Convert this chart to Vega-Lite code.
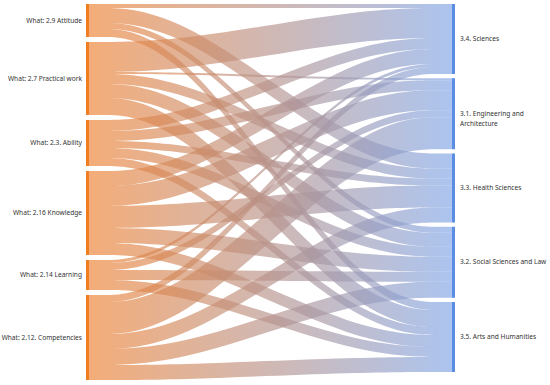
{
  "$schema": "https://vega.github.io/schema/vega-lite/v6.json",
  "width": 363,
  "height": 376,
  "autosize": "none",
  "padding": {"left": 89, "top": 4, "right": 98, "bottom": 5},
  "background": "white",
  "config": {"view": {"stroke": null}},
  "data": {"values": [
    {"source": "What: 2.9 Attitude", "srank": 0, "target": "3.4. Sciences", "trank": 0, "value": 4},
    {"source": "What: 2.9 Attitude", "srank": 0, "target": "3.3. Health Sciences", "trank": 2, "value": 15},
    {"source": "What: 2.9 Attitude", "srank": 0, "target": "3.2. Social Sciences and Law", "trank": 3, "value": 6},
    {"source": "What: 2.9 Attitude", "srank": 0, "target": "3.5. Arts and Humanities", "trank": 4, "value": 8},
    {"source": "What: 2.7 Practical work", "srank": 1, "target": "3.4. Sciences", "trank": 0, "value": 30},
    {"source": "What: 2.7 Practical work", "srank": 1, "target": "3.1. Engineering and Architecture", "trank": 1, "value": 2},
    {"source": "What: 2.7 Practical work", "srank": 1, "target": "3.3. Health Sciences", "trank": 2, "value": 10},
    {"source": "What: 2.7 Practical work", "srank": 1, "target": "3.2. Social Sciences and Law", "trank": 3, "value": 14},
    {"source": "What: 2.7 Practical work", "srank": 1, "target": "3.5. Arts and Humanities", "trank": 4, "value": 17},
    {"source": "What: 2.3. Ability", "srank": 2, "target": "3.4. Sciences", "trank": 0, "value": 11},
    {"source": "What: 2.3. Ability", "srank": 2, "target": "3.1. Engineering and Architecture", "trank": 1, "value": 10},
    {"source": "What: 2.3. Ability", "srank": 2, "target": "3.3. Health Sciences", "trank": 2, "value": 7},
    {"source": "What: 2.3. Ability", "srank": 2, "target": "3.2. Social Sciences and Law", "trank": 3, "value": 10},
    {"source": "What: 2.3. Ability", "srank": 2, "target": "3.5. Arts and Humanities", "trank": 4, "value": 8},
    {"source": "What: 2.16 Knowledge", "srank": 3, "target": "3.4. Sciences", "trank": 0, "value": 15},
    {"source": "What: 2.16 Knowledge", "srank": 3, "target": "3.1. Engineering and Architecture", "trank": 1, "value": 20},
    {"source": "What: 2.16 Knowledge", "srank": 3, "target": "3.3. Health Sciences", "trank": 2, "value": 22},
    {"source": "What: 2.16 Knowledge", "srank": 3, "target": "3.2. Social Sciences and Law", "trank": 3, "value": 15},
    {"source": "What: 2.16 Knowledge", "srank": 3, "target": "3.5. Arts and Humanities", "trank": 4, "value": 12},
    {"source": "What: 2.14 Learning", "srank": 4, "target": "3.4. Sciences", "trank": 0, "value": 3},
    {"source": "What: 2.14 Learning", "srank": 4, "target": "3.1. Engineering and Architecture", "trank": 1, "value": 7},
    {"source": "What: 2.14 Learning", "srank": 4, "target": "3.2. Social Sciences and Law", "trank": 3, "value": 10},
    {"source": "What: 2.14 Learning", "srank": 4, "target": "3.5. Arts and Humanities", "trank": 4, "value": 10},
    {"source": "What: 2.12. Competencies", "srank": 5, "target": "3.4. Sciences", "trank": 0, "value": 7},
    {"source": "What: 2.12. Competencies", "srank": 5, "target": "3.1. Engineering and Architecture", "trank": 1, "value": 32},
    {"source": "What: 2.12. Competencies", "srank": 5, "target": "3.3. Health Sciences", "trank": 2, "value": 15},
    {"source": "What: 2.12. Competencies", "srank": 5, "target": "3.2. Social Sciences and Law", "trank": 3, "value": 16},
    {"source": "What: 2.12. Competencies", "srank": 5, "target": "3.5. Arts and Humanities", "trank": 4, "value": 15}
  ]},
  "transform": [
    {"window": [{"op": "sum", "field": "value", "as": "s_cum"}], "sort": [{"field": "srank"}, {"field": "trank"}], "frame": [null, 0]},
    {"window": [{"op": "sum", "field": "value", "as": "t_cum"}], "sort": [{"field": "trank"}, {"field": "srank"}], "frame": [null, 0]},
    {"calculate": "datum.s_cum + datum.srank * 5", "as": "s1"},
    {"calculate": "datum.s1 - datum.value", "as": "s0"},
    {"calculate": "datum.t_cum + datum.trank * 4.25", "as": "t1"},
    {"calculate": "datum.t1 - datum.value", "as": "t0"}
  ],
  "layer": [
    {
      "transform": [
        {"calculate": "[0, 0.25, 0.75, 1]", "as": "cx"},
        {"calculate": "[0, 0, 1, 1]", "as": "cw"},
        {"flatten": ["cx", "cw"]},
        {"calculate": "datum.s0 + datum.cw * (datum.t0 - datum.s0)", "as": "ya"},
        {"calculate": "datum.s1 + datum.cw * (datum.t1 - datum.s1)", "as": "yb"}
      ],
      "mark": {
        "type": "area",
        "interpolate": "basis",
        "orient": "vertical",
        "fill": {"gradient": "linear", "x1": 0, "x2": 1, "y1": 0, "y2": 0,
          "stops": [{"offset": 0, "color": "#EE8030"}, {"offset": 1, "color": "#7FA4E6"}]},
        "fillOpacity": 0.65
      },
      "encoding": {
        "x": {"field": "cx", "type": "quantitative", "scale": {"domain": [0, 1], "nice": false, "zero": false}, "axis": null},
        "y": {"field": "ya", "type": "quantitative", "scale": {"domain": [0, 376], "reverse": true, "nice": false, "zero": false}, "axis": null, "stack": null},
        "y2": {"field": "yb"},
        "detail": [{"field": "source"}, {"field": "target"}]
      }
    },
    {
      "transform": [
        {"aggregate": [{"op": "min", "field": "s0", "as": "n0"}, {"op": "max", "field": "s1", "as": "n1"}], "groupby": ["source"]}
      ],
      "mark": {"type": "rule", "strokeWidth": 3, "color": "#F07D1E", "xOffset": -1.5},
      "encoding": {
        "x": {"datum": 0, "type": "quantitative", "axis": null},
        "y": {"field": "n0", "type": "quantitative", "axis": null},
        "y2": {"field": "n1"}
      }
    },
    {
      "transform": [
        {"aggregate": [{"op": "min", "field": "t0", "as": "n0"}, {"op": "max", "field": "t1", "as": "n1"}], "groupby": ["target"]}
      ],
      "mark": {"type": "rule", "strokeWidth": 3, "color": "#5B8EE3", "xOffset": 1.5},
      "encoding": {
        "x": {"datum": 1, "type": "quantitative", "axis": null},
        "y": {"field": "n0", "type": "quantitative", "axis": null},
        "y2": {"field": "n1"}
      }
    },
    {
      "transform": [
        {"aggregate": [{"op": "min", "field": "s0", "as": "n0"}, {"op": "max", "field": "s1", "as": "n1"}], "groupby": ["source"]},
        {"calculate": "(datum.n0 + datum.n1) / 2", "as": "mid"}
      ],
      "mark": {"type": "text", "align": "right", "baseline": "middle", "dx": -7, "font": "Noto Sans", "fontSize": 6.6, "color": "#333333"},
      "encoding": {
        "x": {"datum": 0, "type": "quantitative", "axis": null},
        "y": {"field": "mid", "type": "quantitative", "axis": null},
        "text": {"field": "source", "type": "nominal"}
      }
    },
    {
      "transform": [
        {"aggregate": [{"op": "min", "field": "t0", "as": "n0"}, {"op": "max", "field": "t1", "as": "n1"}], "groupby": ["target"]},
        {"calculate": "(datum.n0 + datum.n1) / 2", "as": "mid"},
        {"calculate": "lastindexof(substring(datum.target, 0, 21), ' ')", "as": "cut"},
        {"calculate": "length(datum.target) > 28 ? [substring(datum.target, 0, datum.cut), substring(datum.target, datum.cut + 1)] : datum.target", "as": "label"}
      ],
      "mark": {"type": "text", "align": "left", "baseline": "middle", "dx": 8, "font": "Noto Sans", "fontSize": 6.6, "lineHeight": 10, "color": "#333333"},
      "encoding": {
        "x": {"datum": 1, "type": "quantitative", "axis": null},
        "y": {"field": "mid", "type": "quantitative", "axis": null},
        "text": {"field": "label", "type": "nominal"}
      }
    }
  ]
}
